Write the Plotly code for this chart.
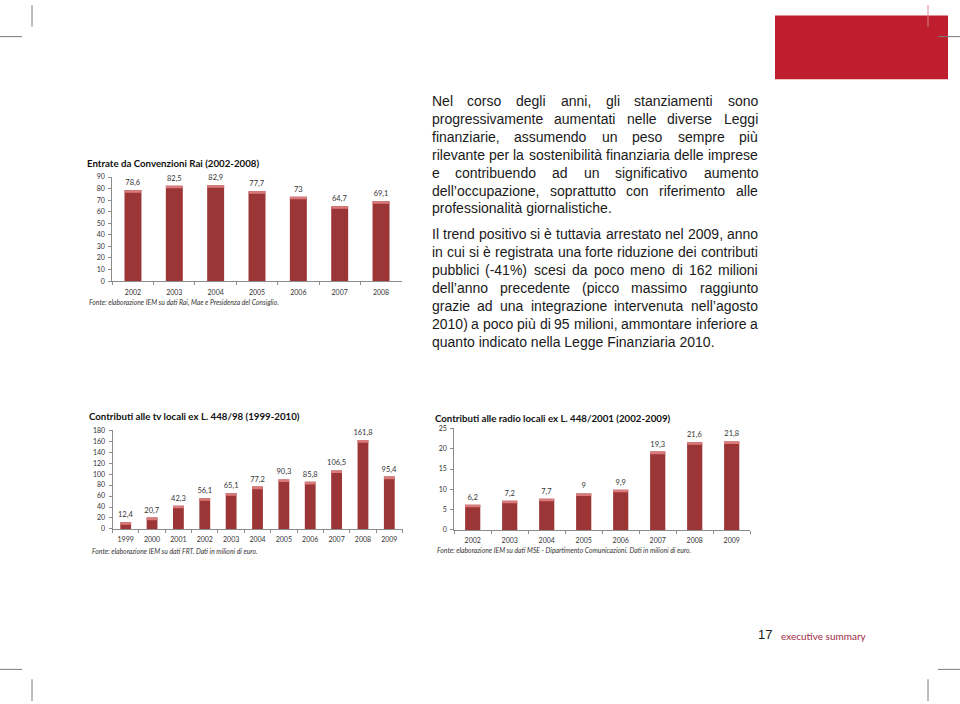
import plotly.graph_objects as go

# ---------------- data ----------------
rai_years = ["2002", "2003", "2004", "2005", "2006", "2007", "2008"]
rai_values = [78.6, 82.5, 82.9, 77.7, 73, 64.7, 69.1]
rai_ticks = [0, 10, 20, 30, 40, 50, 60, 70, 80, 90]

tv_years = ["1999", "2000", "2001", "2002", "2003", "2004", "2005", "2006", "2007", "2008", "2009"]
tv_values = [12.4, 20.7, 42.3, 56.1, 65.1, 77.2, 90.3, 85.8, 106.5, 161.8, 95.4]
tv_ticks = [0, 20, 40, 60, 80, 100, 120, 140, 160, 180]

radio_years = ["2002", "2003", "2004", "2005", "2006", "2007", "2008", "2009"]
radio_values = [6.2, 7.2, 7.7, 9, 9.9, 19.3, 21.6, 21.8]
radio_ticks = [0, 5, 10, 15, 20, 25]

rai_title = "Entrate da Convenzioni Rai (2002-2008)"
tv_title = "Contributi alle tv locali ex L. 448/98 (1999-2010)"
radio_title = "Contributi alle radio locali ex L. 448/2001 (2002-2009)"
rai_source = "Fonte: elaborazione IEM su dati Rai, Mae e Presidenza del Consiglio."
tv_source = "Fonte: elaborazione IEM su dati FRT. Dati in milioni di euro."
radio_source = "Fonte: elaborazione IEM su dati MSE - Dipartimento Comunicazioni. Dati in milioni di euro."

para1 = [
    "Nel corso degli anni, gli stanziamenti sono",
    "progressivamente aumentati nelle diverse Leggi",
    "finanziarie, assumendo un peso sempre più",
    "rilevante per la sostenibilità finanziaria delle imprese",
    "e contribuendo ad un significativo aumento",
    "dell’occupazione, soprattutto con riferimento alle",
    "professionalità giornalistiche.",
]
para2 = [
    "Il trend positivo si è tuttavia arrestato nel 2009, anno",
    "in cui si è registrata una forte riduzione dei contributi",
    "pubblici (-41%) scesi da poco meno di 162 milioni",
    "dell’anno precedente (picco massimo raggiunto",
    "grazie ad una integrazione intervenuta nell’agosto",
    "2010) a poco più di 95 milioni, ammontare inferiore a",
    "quanto indicato nella Legge Finanziaria 2010.",
]
page_number = "17"
footer_text = "executive summary"

# ---------------- helpers ----------------
W, H = 960, 704


def px(x):
    return x / W


def py(y):
    return 1 - y / H


BAR = "#9C3535"
CAP = "#D97B7B"
CHART_FONT = "Lato"
AXIS_COL = "#8C8C8C"
TXT_COL = "#333333"


def fmt(v):
    s = ("%g" % v)
    return s.replace(".", ",")


fig = go.Figure()
annotations = []
shapes = []

charts = [
    # cats, vals, ticks, axis suffix, x0, x1, y_top(px), y_bottom(px)
    (rai_years, rai_values, rai_ticks, "", 112.3, 401.7, 174.0, 279.3),
    (tv_years, tv_values, tv_ticks, "2", 112.5, 402.5, 430.0, 530.0),
    (radio_years, radio_values, radio_ticks, "3", 454.2, 750.2, 428.3, 531.0),
]

layout_axes = {}
for cats, vals, ticks, sfx, x0, x1, yt, yb in charts:
    ymax = ticks[-1]
    cap = 2.6 * ymax / (yb - yt)
    xa = "x" + sfx
    ya = "y" + sfx
    fig.add_trace(go.Bar(
        x=cats, y=vals, xaxis=xa, yaxis=ya,
        marker=dict(color=BAR, line=dict(width=0)),
        text=[fmt(v) for v in vals], textposition="outside", constraintext="none",
        textfont=dict(family=CHART_FONT, size=7.5, color=TXT_COL),
        cliponaxis=False, showlegend=False, hoverinfo="skip",
    ))
    fig.add_trace(go.Bar(
        x=cats, y=[cap] * len(vals), base=[v - cap for v in vals],
        xaxis=xa, yaxis=ya,
        marker=dict(color=CAP, line=dict(width=0)),
        showlegend=False, hoverinfo="skip",
    ))
    layout_axes["xaxis" + sfx] = dict(
        domain=[px(x0), px(x1)], anchor=ya, type="category",
        range=[-0.5, len(cats) - 0.5],
        showline=True, linecolor=AXIS_COL, linewidth=1,
        ticks="outside", tickson="boundaries", ticklen=3, tickcolor=AXIS_COL,
        ticklabelstandoff=4,
        showgrid=False, zeroline=False,
        tickfont=dict(family=CHART_FONT, size=7, color=TXT_COL),
        fixedrange=True,
    )
    layout_axes["yaxis" + sfx] = dict(
        domain=[py(yb), py(yt)], anchor=xa, range=[0, ymax],
        tickvals=ticks, showline=True, linecolor=AXIS_COL, linewidth=1,
        ticks="outside", ticklen=3, tickcolor=AXIS_COL,
        ticklabelstandoff=2,
        showgrid=False, zeroline=False,
        tickfont=dict(family=CHART_FONT, size=7, color=TXT_COL),
        fixedrange=True,
    )

# chart titles and sources
for txt, x, y in [(rai_title, 86, 160), (tv_title, 88, 415.5), (radio_title, 434, 417.5)]:
    annotations.append(dict(text="<b>" + txt + "</b>", x=px(x), y=py(y), xref="paper", yref="paper",
                            xanchor="left", yanchor="middle", showarrow=False, borderpad=0,
                            font=dict(family=CHART_FONT, size=9.7, color="#111111")))
for txt, x, y in [(rai_source, 88, 301), (tv_source, 91, 552), (radio_source, 436, 551)]:
    annotations.append(dict(text="<i>" + txt + "</i>", x=px(x), y=py(y), xref="paper", yref="paper",
                            xanchor="left", yanchor="middle", showarrow=False, borderpad=0,
                            font=dict(family=CHART_FONT, size=6.8, color=TXT_COL)))

# ---------------- justified text ----------------
CW = {' ': 278, 'a': 556, 'b': 556, 'c': 500, 'd': 556, 'e': 556, 'f': 278, 'g': 556, 'h': 556,
      'i': 222, 'j': 222, 'k': 500, 'l': 222, 'm': 833, 'n': 556, 'o': 556, 'p': 556, 'q': 556,
      'r': 333, 's': 500, 't': 278, 'u': 556, 'v': 500, 'w': 722, 'x': 500, 'y': 500, 'z': 500,
      ',': 278, '.': 278, '(': 333, ')': 333, '-': 333, '%': 889, '’': 222,
      'à': 556, 'è': 556, 'é': 556, 'ì': 278, 'ò': 556, 'ù': 556,
      'I': 278, 'L': 556, 'F': 611, 'N': 722, 'P': 667}
for d in "0123456789":
    CW[d] = 556


def tw(s, size):
    return sum(CW.get(c, 556) for c in s) / 1000.0 * size


TL, TR = 430.5, 757.0
TSIZE = 14
TFONT = "Liberation Sans"
TCOL = "#1a1a1a"


def add_para(lines, y0, step):
    for k, line in enumerate(lines):
        y = y0 + k * step
        last = (k == len(lines) - 1)
        if last:
            annotations.append(dict(text=line, x=px(TL), y=py(y), xref="paper", yref="paper",
                                    xanchor="left", yanchor="middle", showarrow=False, borderpad=0,
                                    font=dict(family=TFONT, size=TSIZE, color=TCOL)))
            continue
        words = line.split(" ")
        widths = [tw(w, TSIZE) for w in words]
        gap = (TR - TL - sum(widths)) / (len(words) - 1)
        x = TL
        for w, wd in zip(words, widths):
            annotations.append(dict(text=w, x=px(x), y=py(y), xref="paper", yref="paper",
                                    xanchor="left", yanchor="middle", showarrow=False, borderpad=0,
                                    font=dict(family=TFONT, size=TSIZE, color=TCOL)))
            x += wd + gap


add_para(para1, 96.8, 18.17)
add_para(para2, 231.8, 18.17)

# footer
annotations.append(dict(text=page_number, x=px(757), y=py(637), xref="paper", yref="paper",
                        xanchor="left", yanchor="middle", showarrow=False, borderpad=0,
                        font=dict(family="Liberation Sans", size=13, color="#1a1a1a")))
annotations.append(dict(text=footer_text, x=px(780), y=py(638), xref="paper", yref="paper",
                        xanchor="left", yanchor="middle", showarrow=False, borderpad=0,
                        font=dict(family=CHART_FONT, size=10, color="#9E2A45")))

# red block and crop marks
shapes.append(dict(type="rect", xref="paper", yref="paper", x0=px(775), x1=px(948),
                   y0=py(75), y1=py(10.7), fillcolor="#BE1E2D", line=dict(width=0), layer="below"))
CROP = "#7a7a7a"
for (xa_, ya_, xb_, yb_, col) in [
    (32, 0, 32, 22, CROP), (0, 32, 22, 32, CROP),
    (928, 0, 928, 22, "#d98a90"), (938, 32, 960, 32, CROP),
    (0, 672, 22, 672, CROP), (32, 682, 32, 704, CROP),
    (938, 672, 960, 672, CROP), (928, 682, 928, 704, CROP),
]:
    shapes.append(dict(type="line", xref="paper", yref="paper", x0=px(xa_), y0=py(ya_),
                       x1=px(xb_), y1=py(yb_), line=dict(color=col, width=1)))

fig.update_layout(
    width=W, height=H, autosize=False,
    margin=dict(l=0, r=0, t=0, b=0),
    paper_bgcolor="white", plot_bgcolor="white",
    barmode="overlay", bargap=0.59,
    annotations=annotations, shapes=shapes,
    font=dict(family=CHART_FONT),
    **layout_axes,
)

fig.write_html(
    "out.html",
    config={"displayModeBar": False},
    post_script="document.body.style.margin='0';document.body.style.overflow='hidden';",
)
